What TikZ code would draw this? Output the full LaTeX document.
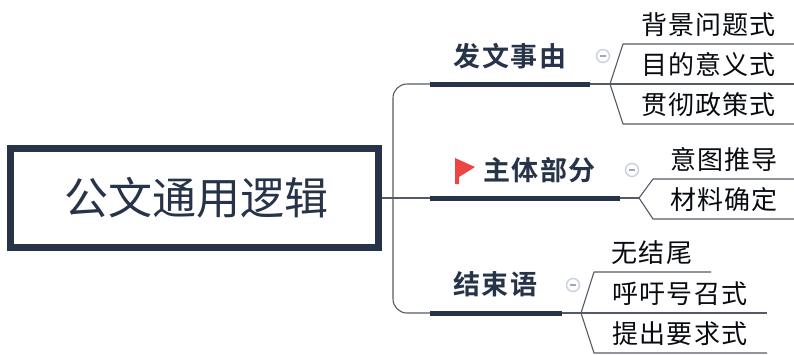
\documentclass[tikz,border=0pt]{standalone}
\usepackage{fontspec}
\newfontfamily\cjk{Noto Sans CJK SC}
\newfontfamily\cjksp[LetterSpace=4.5]{Noto Sans CJK SC}
\newfontfamily\cjkbf[LetterSpace=5]{Noto Sans CJK SC Bold}
\definecolor{navy}{HTML}{263349}
\definecolor{wire}{HTML}{555B66}
\definecolor{fold}{HTML}{C9D1DE}
\definecolor{flagred}{HTML}{EE4444}
\tikzset{
  x=1pt,y=-1pt,
  rootbox/.style={draw=navy,line width=7pt,minimum width=368pt,minimum height=99pt,inner sep=0pt,text=navy,font=\fontsize{44}{46}\selectfont\cjk},
  topic/.style={inner sep=0pt,text=navy,font=\fontsize{27}{30}\selectfont\cjkbf},
  leaf/.style={inner sep=0pt,text=black!78!navy,font=\fontsize{26}{30}\selectfont\cjksp},
  wireline/.style={draw=wire,line width=1.1pt,line join=round},
  bar/.style={draw=navy,line width=5pt},
  foldmark/.style={circle,draw=fold,line width=1.4pt,fill=white,minimum size=13pt,inner sep=0pt},
  foldbar/.style={draw=fold!80!black,line width=1.1pt},
}
\begin{document}
\begin{tikzpicture}
\useasboundingbox (0,0) rectangle (794,354);
\fill[white] (0,0) rectangle (794,354);
% root
\node[rootbox] (root) at (194.5,198) {\hspace{3pt}公文通用逻辑};
\coordinate (hub) at (393,198);
% anchors of the topic bars
\coordinate (a1) at (430,84);  \coordinate (b1) at (590,84);  \coordinate (f1) at (610,84);
\coordinate (a2) at (430,198); \coordinate (b2) at (620,198); \coordinate (f2) at (639,198);
\coordinate (a3) at (430,313); \coordinate (b3) at (562,313); \coordinate (f3) at (581,313);
% connectors from root
\draw[wireline] (root.east) -- (a2);
\draw[wireline,rounded corners=14pt] (a1) -| (hub) |- (a3);
% bars
\draw[bar] (a1) -- (b1);
\draw[bar] (a2) -- (b2);
\draw[bar] (a3) -- (b3);
\draw[wireline] (b1) -- (f1);
\draw[wireline] (b2) -- (f2);
\draw[wireline] (b3) -- (f3);
% topics
\node[topic] (t1) at (510,56) {发文事由};
\node[topic] (t2) at (539.5,170) {主体部分};
\node[topic] (t3) at (495.5,284) {结束语};
% flag
\fill[flagred] (455,158) -- (475,167) -- (459,177) -- (459,184) -- (455,184) -- cycle;
% fold marks
\node[foldmark] (m1) at (603,56) {};
\node[foldmark] (m2) at (632,170) {};
\node[foldmark] (m3) at (573,285) {};
\draw[foldbar] ([xshift=-3pt]m1.center) -- ([xshift=3pt]m1.center);
\draw[foldbar] ([xshift=-3pt]m2.center) -- ([xshift=3pt]m2.center);
\draw[foldbar] ([xshift=-3pt]m3.center) -- ([xshift=3pt]m3.center);
% leaves
\node[leaf] (l11) at (708.5,25) {背景问题式};
\node[leaf] (l12) at (708.5,65) {目的意义式};
\node[leaf] (l13) at (708.5,105) {贯彻政策式};
\node[leaf] (l21) at (724,159) {意图推导};
\node[leaf] (l22) at (724,200) {材料确定};
\node[leaf] (l31) at (652,253) {无结尾};
\node[leaf] (l32) at (680,294) {呼吁号召式};
\node[leaf] (l33) at (680,334) {提出要求式};
% leaf underlines
\coordinate (e11) at (794,44);  \coordinate (e12) at (794,84);  \coordinate (e13) at (794,124);
\coordinate (e21) at (794,179); \coordinate (e22) at (794,219);
\coordinate (e31) at (711,272); \coordinate (e32) at (767,313); \coordinate (e33) at (767,353);
\draw[wireline] (f1) -- (623,44) -- (e11);
\draw[wireline] (f1) -- (e12);
\draw[wireline] (f1) -- (623,124) -- (e13);
\draw[wireline] (f2) -- (653,179) -- (e21);
\draw[wireline] (f2) -- (653,219) -- (e22);
\draw[wireline] (f3) -- (594,272) -- (e31);
\draw[wireline] (f3) -- (e32);
\draw[wireline] (f3) -- (594,353) -- (e33);
\end{tikzpicture}
\end{document}
